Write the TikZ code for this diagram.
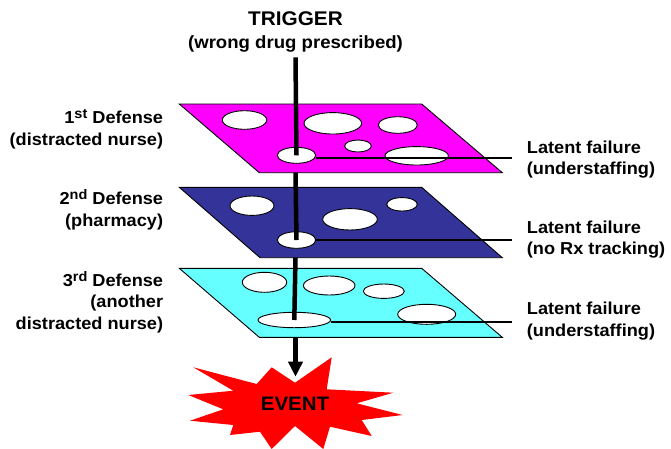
\documentclass[tikz,border=0pt]{standalone}
\usepackage{fontspec}
\setmainfont[FakeStretch=1.05]{Liberation Sans}
\usetikzlibrary{shapes.geometric,arrows.meta}
\definecolor{layerA}{HTML}{FF00FF}
\definecolor{layerB}{HTML}{333399}
\definecolor{layerC}{HTML}{66FFFF}
\definecolor{burst}{HTML}{FF0000}
% ordinal suffix, raised and reduced
\newcommand\ordsuffix[1]{\raisebox{5pt}{\fontsize{13.8}{13.8}\selectfont #1}}

\begin{document}
\begin{tikzpicture}[x=1pt,y=-1pt,
  lbl/.style={font=\bfseries\fontsize{17.3}{21.7}\selectfont, inner sep=0pt},
  layer/.style={draw=black, line width=0.9pt, line join=miter},
  hole/.style={ellipse, draw=black, fill=white, line width=0.9pt, inner sep=0pt},
  axis/.style={line width=4.5pt},
  failure/.style={line width=2pt},
]
\useasboundingbox (0,0) rectangle (671,448);

% trigger
\node[lbl, align=center, anchor=north, font=\bfseries\fontsize{19.8}{22.3}\selectfont]
  (trig) at (295.5,11.7) {TRIGGER\\{\fontsize{17.7}{22.3}\selectfont(wrong drug prescribed)}};
\coordinate (t0) at (295.5,57.3);

% first defense layer
\filldraw[layer, fill=layerA] (179.3,104) -- (421.7,104) -- (502.3,172.7) -- (259.3,172.7) -- cycle;
\node[hole, minimum width=44.4, minimum height=18.6] (a1) at (244.5,120) {};
\node[hole, minimum width=57.6, minimum height=21.4] (a2) at (332.8,123.3) {};
\node[hole, minimum width=39,   minimum height=16.6] (a3) at (397.8,125) {};
\node[hole, minimum width=26.6, minimum height=12]   (a4) at (358,146) {};
\node[hole, minimum width=63.4, minimum height=18.4] (a5) at (416.7,155.8) {};
\node[hole, minimum width=38.4, minimum height=16]   (h1) at (296.5,155.3) {};
\draw[axis] (t0) -- (h1.center);
\coordinate (f1) at (512,157.7);
\draw[failure] (h1.east |- f1) -- (f1);
\coordinate (p1) at (295.5,172.7);

% second defense layer
\filldraw[layer, fill=layerB] (179.3,187.3) -- (421.7,187.3) -- (502.3,257.7) -- (260,257.7) -- cycle;
\node[hole, minimum width=44,   minimum height=19.4] (b1) at (252,205.7) {};
\node[hole, minimum width=54.6, minimum height=21.4] (b2) at (350,219.3) {};
\node[hole, minimum width=30.6, minimum height=13.4] (b3) at (402,204.3) {};
\node[hole, minimum width=38.4, minimum height=16.6] (h2) at (296.5,240) {};
\draw[axis] (p1) -- (h2.center);
\coordinate (f2) at (512,240);
\draw[failure] (h2.east |- f2) -- (f2);
\coordinate (p2) at (295.5,257.7);

% third defense layer
\filldraw[layer, fill=layerC] (179.3,268.3) -- (421.7,268.3) -- (502.3,337.3) -- (259.3,337.3) -- cycle;
\node[hole, minimum width=44.4, minimum height=20]   (c1) at (264.5,282.3) {};
\node[hole, minimum width=51.6, minimum height=19]   (c2) at (329.2,285.5) {};
\node[hole, minimum width=41,   minimum height=14.4] (c3) at (383.8,291.2) {};
\node[hole, minimum width=58,   minimum height=20]   (c4) at (426.7,314.3) {};
\node[hole, minimum width=72.6, minimum height=15.4] (h3) at (294.3,320) {};
\draw[axis] (p2) -- (h3.center);
\coordinate (f3) at (512,322.3);
\draw[failure] (h3.east |- f3) -- (f3);
\coordinate (p3) at (295.5,337.3);

% adverse event burst
\fill[burst] (193.3,367.3) -- (256.7,384) -- (271.7,367.3) -- (295,382.7)
  -- (331.7,357.3) -- (326.7,389.3) -- (393.3,392.7) -- (356.7,403.3)
  -- (402.7,415) -- (361.7,420) -- (371.7,436) -- (330,426.7)
  -- (323.3,449) -- (295,426) -- (271.7,449) -- (260,431.7)
  -- (230,435) -- (233.3,425) -- (190,420.7) -- (223.3,409.3)
  -- (188.3,395) -- (233.3,390.7) -- cycle;
\node[lbl, font=\bfseries\fontsize{19.5}{22}\selectfont] (event) at (295,404.2) {EVENT};
\coordinate (hit) at (295.5,376.7);
\draw[axis, -{Triangle[width=14pt,length=15pt]}] (p3) -- (hit);

% defense labels
\node[lbl, align=right, anchor=north east] (d1) at (163.3,109.5) {1\ordsuffix{st} Defense\\(distracted nurse)};
\node[lbl, align=right, anchor=north east] (d2) at (163.3,189.5) {2\ordsuffix{nd} Defense\\(pharmacy)};
\node[lbl, align=right, anchor=north east] (d3) at (163.3,271) {3\ordsuffix{rd} Defense\\(another\\distracted nurse)};

% latent failure labels
\node[lbl, align=left, anchor=north west] (l1) at (526.7,140.3) {Latent failure\\(understaffing)};
\node[lbl, align=left, anchor=north west] (l2) at (526.7,220.3) {Latent failure\\(no Rx tracking)};
\node[lbl, align=left, anchor=north west] (l3) at (526.7,302) {Latent failure\\(understaffing)};
\end{tikzpicture}
\end{document}
